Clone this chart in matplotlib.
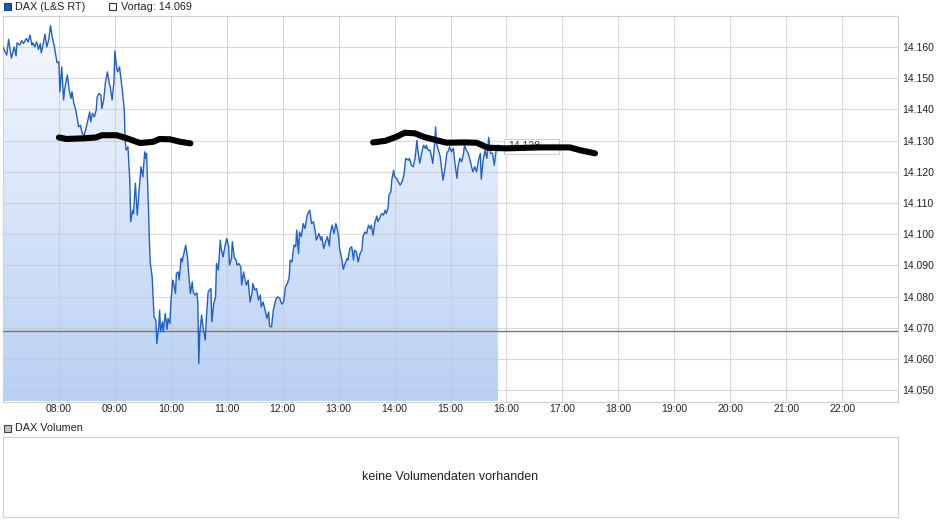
import numpy as np
import matplotlib
matplotlib.use("Agg")
import matplotlib.pyplot as plt
from matplotlib.patches import Rectangle, Polygon
from matplotlib.colors import LinearSegmentedColormap

plt.rcParams['font.family'] = ['Liberation Sans', 'DejaVu Sans']

# minutes after 07:00 and DAX points (L&S realtime)
minutes = [0, 4, 6, 9, 12, 14, 15, 18, 20, 22, 25, 27, 29, 31, 32, 34, 36, 38, 40, 41,
           43, 45, 47, 49, 51, 53, 55, 56, 58, 60, 61, 63, 65, 66, 69, 71, 73, 74, 76, 78,
           80, 81, 83, 85, 87, 89, 91, 93, 94, 96, 98, 100, 101, 103, 105, 106, 108, 110, 112, 114,
           115, 117, 119, 120, 122, 123, 125, 126, 128, 129, 130, 131, 132, 134, 136, 137, 139, 140, 142, 144,
           146, 148, 150, 152, 153, 154, 156, 157, 158, 160, 162, 164, 165, 167, 168, 169, 171, 172, 174, 176,
           177, 179, 180, 182, 183, 185, 186, 188, 189, 191, 192, 194, 196, 198, 199, 201, 203, 204, 206, 208,
           209, 210, 211, 213, 215, 217, 218, 220, 223, 224, 226, 228, 229, 231, 233, 234, 236, 238, 240, 242,
           243, 245, 246, 248, 250, 251, 253, 255, 256, 258, 259, 261, 263, 265, 267, 268, 270, 272, 274, 276,
           277, 279, 282, 283, 285, 286, 288, 290, 292, 293, 295, 297, 299, 301, 303, 305, 307, 308, 310, 312,
           314, 315, 317, 318, 320, 322, 324, 326, 327, 329, 331, 333, 335, 336, 339, 341, 342, 344, 346, 348,
           350, 351, 353, 355, 357, 358, 360, 361, 363, 365, 367, 369, 370, 372, 374, 376, 377, 379, 381, 383,
           385, 386, 388, 390, 392, 394, 395, 397, 399, 401, 402, 404, 406, 408, 410, 411, 413, 414, 416, 417,
           419, 420, 422, 424, 426, 428, 430, 432, 435, 436, 438, 440, 442, 444, 445, 447, 449, 451, 453, 454,
           456, 458, 460, 461, 463, 464, 465, 467, 469, 470, 472, 474, 476, 478, 479, 481, 483, 485, 487, 488,
           490, 492, 494, 495, 497, 499, 501, 503, 504, 506, 508, 510, 512, 513, 515, 517, 519, 520, 521, 523,
           525, 527, 528, 529, 531]
prices = [14159.8, 14157.4, 14162.4, 14156.4, 14160.0, 14157.1, 14161.3, 14160.6, 14162.0, 14161.1,
          14162.7, 14161.6, 14163.8, 14160.6, 14161.3, 14160.0, 14161.6, 14159.2, 14161.1, 14158.1,
          14160.6, 14164.1, 14160.0, 14162.2, 14166.8, 14162.7, 14160.3, 14158.4, 14154.9, 14155.2,
          14145.6, 14153.6, 14143.0, 14146.2, 14151.0, 14146.2, 14143.5, 14145.6, 14141.9, 14139.8,
          14136.5, 14134.4, 14134.9, 14132.3, 14131.7, 14133.9, 14136.6, 14139.2, 14136.0, 14138.7,
          14137.6, 14139.8, 14144.0, 14145.1, 14144.6, 14140.3, 14143.0, 14148.8, 14152.0, 14148.3,
          14147.2, 14143.0, 14148.8, 14158.7, 14153.1, 14152.0, 14153.6, 14151.0, 14146.2, 14143.0,
          14140.3, 14130.1, 14126.9, 14128.0, 14117.3, 14104.0, 14107.7, 14106.6, 14116.3, 14106.1,
          14114.1, 14121.6, 14118.4, 14126.4, 14124.3, 14125.9, 14108.8, 14098.1, 14090.6, 14086.3,
          14073.5, 14072.5, 14065.0, 14070.3, 14075.7, 14068.7, 14071.9, 14068.7, 14074.6, 14069.5,
          14073.0, 14071.4, 14077.8, 14085.3, 14084.2, 14081.0, 14087.4, 14087.9, 14085.3, 14092.2,
          14091.1, 14093.8, 14096.5, 14092.2, 14087.9, 14081.0, 14084.7, 14081.5, 14080.5, 14081.2,
          14077.8, 14058.6, 14068.2, 14074.1, 14069.3, 14066.1, 14072.5, 14081.5, 14082.6, 14071.9,
          14077.8, 14079.9, 14090.6, 14088.5, 14098.1, 14095.4, 14092.7, 14096.0, 14098.6, 14096.0,
          14090.1, 14092.2, 14097.6, 14092.6, 14091.7, 14090.1, 14090.6, 14089.5, 14083.7, 14087.9,
          14086.3, 14083.7, 14085.3, 14078.3, 14081.0, 14084.2, 14082.1, 14082.6, 14078.9, 14080.5,
          14076.7, 14078.3, 14074.6, 14073.0, 14075.1, 14070.5, 14070.3, 14075.7, 14078.3, 14079.4,
          14079.9, 14079.4, 14077.6, 14078.3, 14083.1, 14084.2, 14086.3, 14091.7, 14091.1, 14096.5,
          14096.0, 14101.3, 14093.8, 14100.7, 14099.2, 14103.4, 14101.8, 14105.6, 14106.6, 14107.7,
          14103.4, 14104.0, 14100.7, 14098.1, 14100.2, 14098.1, 14099.2, 14095.4, 14097.6, 14099.2,
          14096.2, 14100.2, 14102.9, 14100.2, 14103.4, 14102.4, 14099.2, 14095.4, 14092.7, 14088.8,
          14090.6, 14092.2, 14091.7, 14095.4, 14096.0, 14091.7, 14094.9, 14094.4, 14091.1, 14093.8,
          14094.9, 14099.1, 14100.7, 14100.2, 14102.9, 14101.8, 14102.9, 14099.7, 14104.0, 14105.8,
          14104.0, 14105.1, 14106.6, 14106.1, 14107.7, 14106.6, 14108.4, 14112.5, 14113.6, 14117.3,
          14120.5, 14118.4, 14117.9, 14116.8, 14115.7, 14116.8, 14118.9, 14124.3, 14123.7, 14124.3,
          14122.1, 14121.6, 14124.3, 14130.1, 14126.9, 14122.7, 14125.9, 14128.5, 14127.5, 14128.5,
          14126.9, 14126.9, 14124.3, 14122.7, 14129.1, 14134.4, 14129.1, 14126.9, 14124.8, 14122.1,
          14117.3, 14121.0, 14125.9, 14126.9, 14128.0, 14126.4, 14127.5, 14122.1, 14117.9, 14121.6,
          14124.3, 14123.2, 14125.9, 14128.5, 14126.9, 14125.9, 14123.7, 14121.1, 14120.0, 14121.6,
          14120.0, 14123.7, 14125.9, 14117.6, 14123.7, 14126.9, 14124.3, 14127.5, 14131.0, 14125.9,
          14125.9, 14122.1, 14124.8, 14126.9, 14128.5]

prev_close = 14069
last_label = "14.128"

# hand drawn black marks on the chart
mark1_min = [60, 68, 86, 100, 106, 122, 133, 147, 161, 168, 179, 190, 201]
mark1_val = [14131.0, 14130.5, 14130.7, 14131.0, 14131.7, 14131.7, 14130.7, 14129.2, 14129.6,
             14130.5, 14130.4, 14129.6, 14129.1]
mark2_min = [397, 410, 422, 431, 442, 451, 465, 476, 495, 508, 520, 540, 576, 608, 619, 635]
mark2_val = [14129.4, 14129.9, 14131.2, 14132.5, 14132.3, 14131.2, 14130.1, 14129.3, 14129.4,
             14129.3, 14127.7, 14127.5, 14127.8, 14127.8, 14126.9, 14125.9]

hours = list(range(8, 23))
hour_labels = ["%02d:00" % h for h in hours]
yticks = list(range(14050, 14170, 10))

t = 7 + np.array(minutes) / 60.0
p = np.array(prices)
xlim = (7.0, 23.0)
ylim = (14046.4, 14169.9)

W, H = 940, 526
fig = plt.figure(figsize=(W / 100, H / 100), dpi=100)
ax = fig.add_axes([3 / W, 1 - 401.5 / H, 895 / W, 385.5 / H])
ax.set_xlim(*xlim)
ax.set_ylim(*ylim)

# gradient area under the price line
cmap = LinearSegmentedColormap.from_list("area", ["#f6f9fe", "#b9d0f5"])
grad = np.linspace(0, 1, 256).reshape(-1, 1)
im = ax.imshow(grad, extent=[xlim[0], xlim[1], ylim[0], ylim[1]], aspect='auto',
               origin='upper', cmap=cmap, zorder=1)
verts = np.vstack([[t[0], ylim[0]], np.column_stack([t, p]), [t[-1], ylim[0]]])
clip = Polygon(verts, closed=True, transform=ax.transData, facecolor='none', edgecolor='none')
ax.add_patch(clip)
im.set_clip_path(clip)

ax.set_xticks(hours)
ax.set_xticklabels(hour_labels)
ax.set_yticks(yticks)
ax.set_yticklabels(["%d.%03d" % (v // 1000, v % 1000) for v in yticks])
ax.yaxis.tick_right()
ax.tick_params(axis='both', length=0, labelsize=7.5, labelcolor='#222222')
ax.tick_params(axis='y', pad=3)
ax.tick_params(axis='x', pad=2)
ax.set_axisbelow(False)
ax.grid(True, color='#c8c8c8', linewidth=0.8, alpha=0.7)
for s in ax.spines.values():
    s.set_color('#d0d0d0')
    s.set_linewidth(0.8)

ax.axhline(prev_close, color='#777777', linewidth=1.0, zorder=3)
ax.plot(t, p, color='#2160c4', linewidth=1.0, zorder=4)

# last price box
box_t0 = t[-1] + 0.1
ax.add_patch(Rectangle((box_t0, 14125.7), 0.99, 4.8, facecolor='white', edgecolor='#d0d0d0',
                       linewidth=0.8, zorder=5))
ax.text(box_t0 + 0.09, 14128.1, last_label, fontsize=7.5, color='#333333', va='center', ha='left',
        zorder=5)

ax.plot(7 + np.array(mark1_min) / 60.0, mark1_val, color='black', linewidth=4.4,
        solid_capstyle='round', solid_joinstyle='round', zorder=6)
ax.plot(7 + np.array(mark2_min) / 60.0, mark2_val, color='black', linewidth=4.4,
        solid_capstyle='round', solid_joinstyle='round', zorder=6)

# legend row on top
fig.add_artist(Rectangle((3.5 / W, 1 - 10 / H), 7 / W, 7 / H, transform=fig.transFigure,
                         facecolor='#1f56b8', edgecolor='#1a3f80', linewidth=0.8))
fig.text(15 / W, 1 - 6.5 / H, "DAX (L&S RT)", fontsize=7.8, color='#222222', va='center')
fig.add_artist(Rectangle((109 / W, 1 - 10 / H), 7 / W, 7 / H, transform=fig.transFigure,
                         facecolor='white', edgecolor='#333333', linewidth=0.8))
fig.text(121 / W, 1 - 6.5 / H, "Vortag: 14.069", fontsize=7.8, color='#222222', va='center')

# volume panel
fig.add_artist(Rectangle((3.5 / W, 1 - 432 / H), 7 / W, 7 / H, transform=fig.transFigure,
                         facecolor='#c4c4c4', edgecolor='#444444', linewidth=0.8))
fig.text(15 / W, 1 - 428 / H, "DAX Volumen", fontsize=7.8, color='#222222', va='center')
vax = fig.add_axes([3 / W, 1 - 517 / H, 895 / W, 80 / H])
vax.set_xticks([])
vax.set_yticks([])
for s in vax.spines.values():
    s.set_color('#d0d0d0')
    s.set_linewidth(0.8)
vax.text(0.5, 0.5, "keine Volumendaten vorhanden", transform=vax.transAxes, ha='center', va='center',
         fontsize=9, color='#222222')

fig.savefig("out.png", dpi=100)
